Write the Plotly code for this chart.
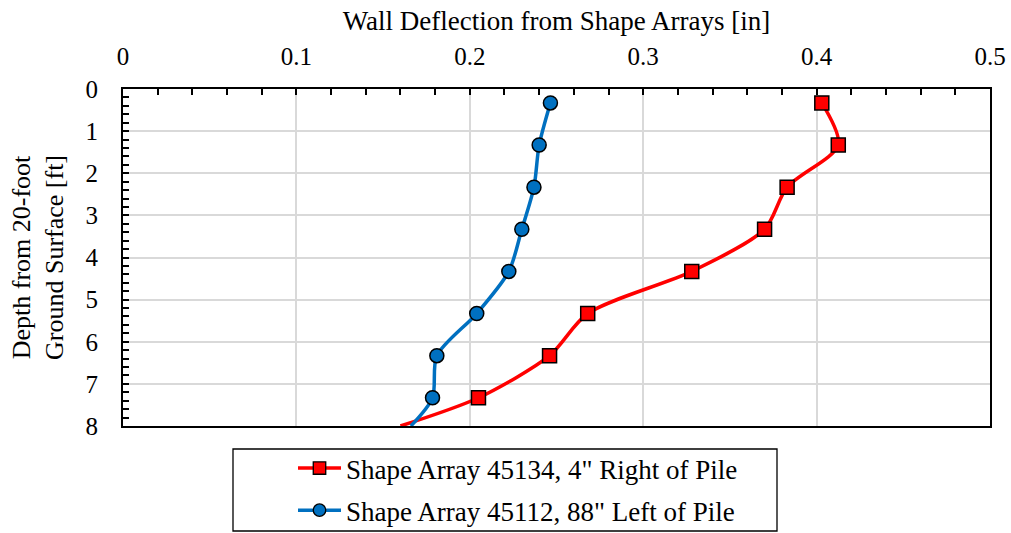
import plotly.graph_objects as go

depth = [0.33, 1.33, 2.33, 3.33, 4.33, 5.33, 6.33, 7.33, 8.0]
red_defl = [0.403, 0.4125, 0.383, 0.370, 0.328, 0.268, 0.246, 0.205, 0.160]
blue_defl = [0.2465, 0.240, 0.237, 0.230, 0.2225, 0.204, 0.181, 0.1785, 0.166]
red_name = 'Shape Array 45134, 4" Right of Pile'
blue_name = 'Shape Array 45112, 88" Left of Pile'
x_ticks = [0, 0.1, 0.2, 0.3, 0.4, 0.5]
x_ticklabels = ["0", "0.1", "0.2", "0.3", "0.4", "0.5"]
y_ticks = [0, 1, 2, 3, 4, 5, 6, 7, 8]

FONT = "Liberation Serif, Times New Roman, serif"
n = len(depth)
msize = [14] * (n - 1) + [0]
mlw = [1.5] * (n - 1) + [0]

W, H = 1011, 533
L, T = 123, 89
PW, PH = 867, 337
R = W - L - PW
B = H - T - PH


def px_to_paper_x(px):
    return (px - L) / PW


def px_to_paper_y(py):
    return (T + PH - py) / PH


fig = go.Figure()
fig.add_trace(go.Scatter(
    x=red_defl, y=depth, name=red_name, mode="lines+markers",
    line=dict(color="#FF0000", width=3.5, shape="spline", smoothing=0.8),
    marker=dict(symbol="square", size=msize, color="#FF0000", opacity=1,
                line=dict(color="black", width=mlw)),
    legendgroup="a",
))
fig.add_trace(go.Scatter(
    x=blue_defl, y=depth, name=blue_name, mode="lines+markers",
    line=dict(color="#0070C0", width=3.5, shape="spline", smoothing=0.8),
    marker=dict(symbol="circle", size=msize, color="#0070C0", opacity=1,
                line=dict(color="black", width=mlw)),
    legendgroup="b",
))

# legend frame
fig.add_shape(
    type="rect", xref="paper", yref="paper",
    x0=px_to_paper_x(233), x1=px_to_paper_x(777),
    y0=px_to_paper_y(531), y1=px_to_paper_y(449),
    line=dict(color="black", width=1.3), fillcolor="rgba(0,0,0,0)",
)

fig.update_layout(
    width=W, height=H,
    margin=dict(l=L, r=R, t=T, b=B, autoexpand=False),
    paper_bgcolor="white", plot_bgcolor="white",
    font=dict(family=FONT, size=25, color="black"),
    showlegend=True,
    legend=dict(
        x=px_to_paper_x(293), y=px_to_paper_y(444), xanchor="left", yanchor="top",
        borderwidth=0, bgcolor="rgba(0,0,0,0)",
        font=dict(family=FONT, size=27),
        traceorder="grouped", tracegroupgap=4, itemwidth=43,
    ),
)
fig.update_xaxes(
    side="top", range=[0, 0.5], tickvals=x_ticks, ticktext=x_ticklabels,
    automargin=False,
    showgrid=True, gridcolor="#D9D9D9", gridwidth=1.5,
    showline=True, linecolor="black", linewidth=2, mirror=True,
    ticks="inside", ticklen=6, tickcolor="black", tickwidth=1.5,
    minor=dict(dtick=0.02, ticks="inside", ticklen=6, tickcolor="black", tickwidth=1.5, showgrid=False),
    zeroline=False, ticklabelstandoff=12,
    tickfont=dict(size=25),
    title=dict(text="Wall Deflection from Shape Arrays [in]", font=dict(size=27), standoff=5),
)
fig.update_yaxes(
    range=[8, 0], tickvals=y_ticks,
    automargin=False,
    showgrid=True, gridcolor="#D9D9D9", gridwidth=1.5,
    showline=True, linecolor="black", linewidth=2, mirror=True,
    ticks="inside", ticklen=6, tickcolor="black", tickwidth=1.5,
    minor=dict(dtick=0.2, ticks="inside", ticklen=6, tickcolor="black", tickwidth=1.5, showgrid=False),
    zeroline=False, ticklabelstandoff=18,
    tickfont=dict(size=25),
    title=dict(text="Depth from 20-foot<br>Ground Surface [ft]", font=dict(size=26), standoff=14),
)

fig.write_html(
    "out.html",
    config={"displayModeBar": False},
    post_script="document.body.style.margin='0';document.body.style.overflow='hidden';",
)
